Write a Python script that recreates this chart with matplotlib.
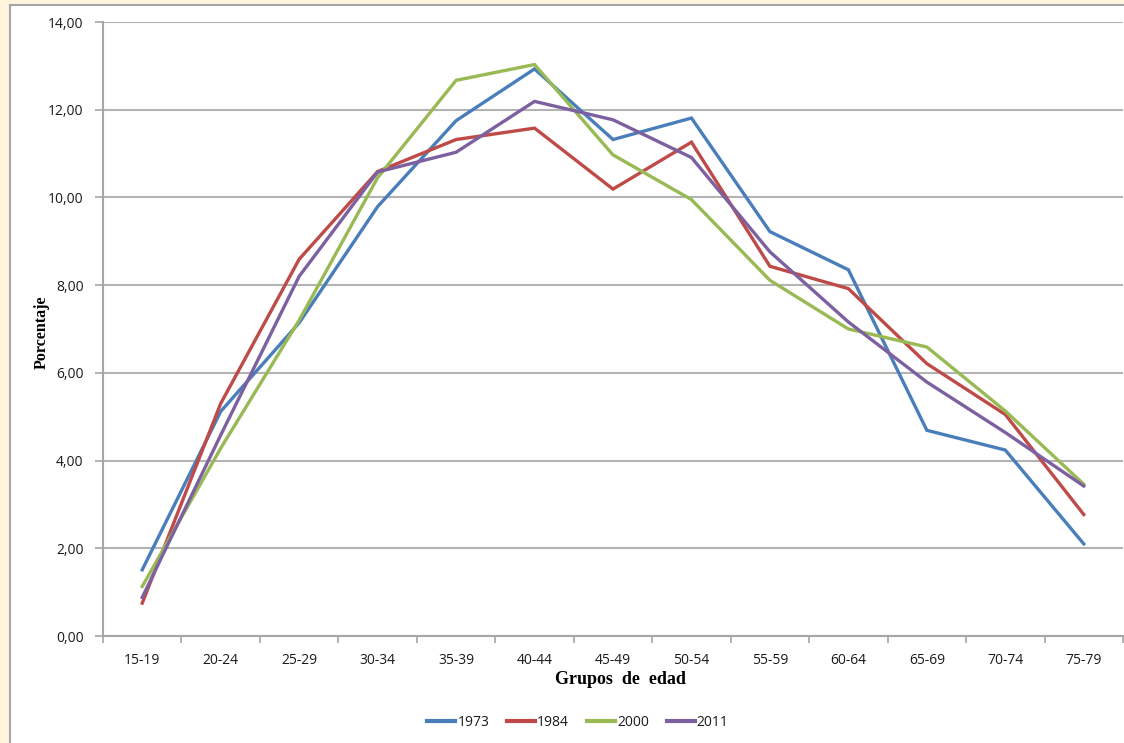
import matplotlib
matplotlib.use("Agg")
import matplotlib.pyplot as plt
from matplotlib.patches import Rectangle
import numpy as np

# --- data -----------------------------------------------------------------
AGE_GROUPS = ["15-19", "20-24", "25-29", "30-34", "35-39", "40-44", "45-49",
              "50-54", "55-59", "60-64", "65-69", "70-74", "75-79"]
Y1973 = [1.51, 5.12, 7.14, 9.79, 11.75, 12.93, 11.32, 11.81, 9.22, 8.35, 4.69, 4.24, 2.10]
Y1984 = [0.75, 5.30, 8.59, 10.59, 11.32, 11.58, 10.19, 11.26, 8.43, 7.92, 6.21, 5.05, 2.77]
Y2000 = [1.13, 4.28, 7.20, 10.45, 12.67, 13.03, 10.97, 9.95, 8.11, 7.00, 6.59, 5.13, 3.46]
Y2011 = [0.88, 4.58, 8.20, 10.58, 11.03, 12.19, 11.77, 10.91, 8.76, 7.16, 5.79, 4.64, 3.42]
YTICKS = [0, 2, 4, 6, 8, 10, 12, 14]

SERIES = [("1973", Y1973, "#4a7ebb"),
          ("1984", Y1984, "#be4b48"),
          ("2000", Y2000, "#98b954"),
          ("2011", Y2011, "#7d60a0")]

CREAM = "#fff4de"
FRAME = "#a6a6a6"
GRID = "#b3b3b3"
TEXT = "#1a1a1a"

W, H = 1124, 743
fig = plt.figure(figsize=(W / 100, H / 100), dpi=100)
fig.patch.set_facecolor(CREAM)

# white chart area with a grey border (cropped at right / bottom)
fig.patches.append(Rectangle((10 / W, -0.05), 1.1, (H - 5) / H + 0.05,
                             transform=fig.transFigure, facecolor="white",
                             edgecolor=FRAME, linewidth=1.5, zorder=-10))

ax = fig.add_axes([103 / W, (H - 636) / H, (1123 - 103) / W, (636 - 22) / H])
ax.set_facecolor("none")
ax.set_zorder(5)

x = np.arange(len(AGE_GROUPS))
for label, vals, color in SERIES:
    ax.plot(x, vals, color=color, linewidth=2.4, label=label,
            solid_joinstyle="miter", zorder=3)

ax.set_xlim(-0.5, len(AGE_GROUPS) - 0.5)
ax.set_ylim(0, 14)
ax.set_yticks(YTICKS, [f"{v:.2f}".replace(".", ",") for v in YTICKS])
ax.set_xticks(x, AGE_GROUPS)
ax.set_xticks(np.arange(-0.5, len(AGE_GROUPS), 1.0), minor=True)
ax.tick_params(axis="x", which="major", length=0, pad=12, labelsize=10,
               labelcolor=TEXT)
ax.tick_params(axis="x", which="minor", length=5, color=FRAME, width=1.2)
ax.tick_params(axis="y", length=6, color=FRAME, width=1.2, pad=8,
               labelsize=10, labelcolor=TEXT)
for lab in ax.get_xticklabels() + ax.get_yticklabels():
    lab.set_family("Open Sans")

ax.grid(axis="y", color=GRID, linewidth=1.5, zorder=1)
ax.set_axisbelow(True)
for side in ("top", "right"):
    ax.spines[side].set_visible(False)
for side in ("left", "bottom"):
    ax.spines[side].set_color(FRAME)
    ax.spines[side].set_linewidth(1.5)

fig.text(42 / W, 1 - 332 / H, "Porcentaje", rotation=90, ha="center",
         va="center", fontsize=11.5, fontweight="bold", family="Liberation Serif",
         color="black")
fig.text(620 / W, 1 - 680 / H, "Grupos  de  edad", ha="center", va="center",
         fontsize=13, fontweight="bold", family="Liberation Serif",
         color="black")

leg = fig.legend(loc="center", bbox_to_anchor=(578 / W, 1 - 722 / H), ncol=4,
                 frameon=False, handlelength=2.0, handletextpad=0.15,
                 columnspacing=1.3, prop={"family": "Open Sans", "size": 10})
for t in leg.get_texts():
    t.set_color(TEXT)
for h in leg.get_lines():
    h.set_linewidth(3)

fig.savefig("out.png", dpi=100, facecolor=CREAM)
